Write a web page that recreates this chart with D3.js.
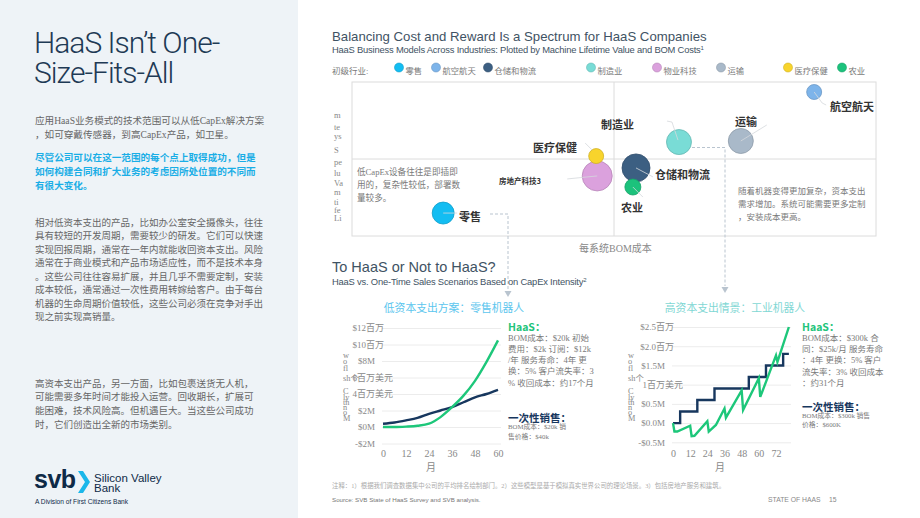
<!DOCTYPE html>
<html>
<head>
<meta charset="utf-8">
<script src="https://cdn.jsdelivr.net/npm/d3@7"></script>
<style>
  body { margin: 0; background: #fff; }
  svg { display: block; }
</style>
</head>
<body>
<svg id="page" width="920" height="518"></svg>
<script>
// ---- data: bubble chart (relative units 0..10 on both axes) ----
var industries    = ["零售", "航空航天", "仓储和物流", "制造业", "物业科技", "运输", "医疗保健", "农业"];
var bubbleLabels  = ["零售", "航空航天", "仓储和物流", "制造业", "房地产科技3", "运输", "医疗保健", "农业"];
var bomCost       = [1.74, 8.82, 5.42, 6.24, 4.68, 7.42, 4.66, 5.36];
var lifetimeValue = [1.49, 9.35, 4.42, 6.10, 3.90, 6.17, 5.19, 3.18];
var bubbleSize    = [121, 56, 196, 156, 225, 156, 56, 64];

// ---- data: low capex, retail robot ($M by month) ----
var retailMonths     = [0, 6, 12, 18, 24, 30, 36, 42, 48, 54, 60];
var retailHaas       = [0, 0, 0.05, 0.15, 0.4, 1.2, 2.4, 3.8, 5.6, 7.9, 10.5];
var retailOneTime    = [0.4, 0.55, 0.8, 1.1, 1.6, 2.0, 2.4, 3.0, 3.6, 4.0, 4.5];
var retailYTicks     = [-2, 0, 2, 4, 6, 8, 10, 12];
var retailYLabels    = ["-$2M", "$0M", "$2M", "4百万美元", "6百万美元", "$8M", "$10百万", "$12百万"];
var retailXTicks     = [0, 12, 24, 36, 48, 60];

// ---- data: high capex, industrial robot ($M by month) ----
var indHaasMonths    = [0, 1, 3, 12, 13, 15, 24, 25, 30, 36, 37, 48, 49, 60, 61, 72, 73, 81];
var indHaas          = [0, -0.22, -0.22, -0.07, -0.34, -0.33, 0.05, -0.22, -0.05, 0.38, 0.14, 0.85, 0.34, 1.17, 0.68, 1.76, 1.59, 2.5];
var indOneTimeMonths = [0, 5, 17, 29, 53, 65, 77, 81];
var indOneTime       = [0, 0.3, 0.6, 0.9, 1.2, 1.5, 1.8, 1.8];
var indYTicks        = [-0.5, 0, 0.5, 1, 1.5, 2, 2.5];
var indYLabels       = ["-$0.5M", "$0.0M", "$0.5M", "1百万美元", "$1.5M", "$2.0百万", "$2.5百万"];
var indXTicks        = [0, 12, 24, 36, 48, 60, 72];

// ---- styles ----
var SERIF = '"Liberation Serif", "Noto Sans CJK SC", serif';
var SANS = '"Liberation Sans", "Noto Sans CJK SC", sans-serif';
var CJK = '"Noto Sans CJK SC", sans-serif';
var NAVY = "#17375e", GREEN = "#1dc77a", GREY = "#7a7a7a";
var industryColor = d3.scaleOrdinal().domain(industries)
  .range(["#13bdf2", "#7db4ea", "#3c5f82", "#79dcd6", "#dba1dd", "#a9b9c9", "#f8d42c", "#1cc27c"]);

var svg = d3.select("#page");

// helper: several lines of text
function textLines(x, y, arr, lh, size, fill, family, weight) {
  var t = svg.append("text").attr("font-family", family).attr("font-size", size)
    .attr("fill", fill).attr("font-weight", weight || 400);
  arr.forEach(function (s, i) {
    t.append("tspan").attr("x", x).attr("y", y + i * lh).text(s);
  });
  return t;
}

// ---------------- left panel ----------------
svg.append("rect").attr("width", 298).attr("height", 518).attr("fill", "#eef3f7");

var title = svg.append("text").attr("font-family", 'Roboto, "Liberation Sans", sans-serif')
  .attr("font-weight", 300).attr("font-size", 30).attr("fill", "#1e3a55").attr("letter-spacing", -1);
title.append("tspan").attr("x", 34).attr("y", 53).text("HaaS Isn’t One-");
title.append("tspan").attr("x", 34).attr("y", 83).text("Size-Fits-All");

textLines(35, 123.5, ["应用HaaS业务模式的技术范围可以从低CapEx解决方案", "，如可穿戴传感器，到高CapEx产品，如卫星。"],
  14.5, 9.6, "#666", SERIF);
textLines(35, 160.5, ["尽管公司可以在这一范围的每个点上取得成功，但是", "如何构建合同和扩大业务的考虑因所处位置的不同而", "有很大变化。"],
  14, 9.6, "#1aaee6", CJK, 700);
textLines(35, 225.5, ["相对低资本支出的产品，比如办公室安全摄像头，往往", "具有较短的开发周期，需要较少的研发。它们可以快速",
  "实现回报周期，通常在一年内就能收回资本支出。风险", "通常在于商业模式和产品市场适应性，而不是技术本身",
  "。这些公司往往容易扩展，并且几乎不需要定制，安装", "成本较低，通常通过一次性费用转嫁给客户。由于每台",
  "机器的生命周期价值较低，这些公司必须在竞争对手出", "现之前实现高销量。"], 13.57, 9.5, "#666", SERIF);
textLines(35, 386.5, ["高资本支出产品，另一方面，比如包裹送货无人机，", "可能需要多年时间才能投入运营。回收期长，扩展可",
  "能困难，技术风险高。但机遇巨大。当这些公司成功", "时，它们创造出全新的市场类别。"], 13.67, 9.5, "#666", SERIF);

// logo
svg.append("text").attr("x", 34).attr("y", 488).attr("font-family", SANS).attr("font-weight", 700)
  .attr("font-size", 25).attr("letter-spacing", -0.5).attr("fill", "#0e2a47").text("svb");
svg.append("path").attr("d", "M78,471 L83,471 L90,482 L83,493 L78,493 L85,482 Z").attr("fill", "#1ab7ea");
textLines(94, 481.5, ["Silicon Valley", "Bank"], 10.5, 11.5, "#0e2a47", SANS);
svg.append("text").attr("x", 35).attr("y", 504).attr("font-family", SANS).attr("font-size", 6.6)
  .attr("fill", "#0e2a47").text("A Division of First Citizens Bank");

// ---------------- bubble chart ----------------
svg.append("text").attr("x", 332).attr("y", 41).attr("font-family", SANS).attr("font-size", 13.2)
  .attr("fill", "#3f5364").text("Balancing Cost and Reward Is a Spectrum for HaaS Companies");
var sub1 = svg.append("text").attr("x", 332).attr("y", 53).attr("font-family", SANS).attr("font-size", 9.4)
  .attr("fill", "#3f5364").attr("letter-spacing", -0.2)
  .text("HaaS Business Models Across Industries: Plotted by Machine Lifetime Value and BOM Costs");
sub1.append("tspan").attr("font-size", 6).attr("dy", -3).text("1");

// legend
var legendX = [399, 436, 488, 591, 657, 721, 788, 842];
svg.append("text").attr("x", 332).attr("y", 73.5).attr("font-family", SERIF).attr("font-size", 8.5)
  .attr("fill", GREY).text("初级行业:");
var legend = svg.append("g").selectAll("g").data(industries).join("g")
  .attr("transform", function (d, i) { return "translate(" + legendX[i] + ",0)"; });
legend.append("circle").attr("cy", 67.5).attr("r", 4.5).attr("fill", industryColor)
  .attr("stroke", function (d) { return d3.color(industryColor(d)).darker(0.5); }).attr("stroke-width", 0.6);
legend.append("text").attr("x", 6.5).attr("y", 73.5).attr("font-family", SERIF).attr("font-size", 8.3)
  .attr("fill", GREY).text(function (d) { return d; });

var bx = d3.scaleLinear().domain([0, 10]).range([352, 876]);
var by = d3.scaleLinear().domain([0, 10]).range([236, 82]);
var br = d3.scaleSqrt().domain([0, 225]).range([0, 15]);

var frame = svg.append("g").attr("stroke", "#dcdcdc").attr("stroke-width", 1);
frame.append("rect").attr("x", bx(0)).attr("y", by(10)).attr("width", bx(10) - bx(0))
  .attr("height", by(0) - by(10)).attr("fill", "none");
frame.append("line").attr("x1", bx(5)).attr("x2", bx(5)).attr("y1", by(10)).attr("y2", by(0));
frame.append("line").attr("x1", bx(0)).attr("x2", bx(10)).attr("y1", by(5)).attr("y2", by(5));

// stacked y-axis label
var yPieces = ["m", "te", "ys", "S", "pe", "lu", "Va", "m", "ti", "fe", "Li"];
var yPieceY = [118, 130, 139, 153, 165, 176, 186, 195, 205, 213, 221];
svg.append("g").selectAll("text").data(yPieces).join("text")
  .attr("x", 334).attr("y", function (d, i) { return yPieceY[i]; })
  .attr("font-family", SERIF).attr("font-size", 8.5).attr("fill", "#888").text(function (d) { return d; });

svg.append("text").attr("x", 579).attr("y", 252).attr("font-family", SERIF).attr("font-size", 10)
  .attr("fill", "#888").text("每系统BOM成本");

textLines(357, 174.5, ["低CapEx设备往往是即插即", "用的，复杂性较低，部署数", "量较多。"], 13, 8.6, GREY, SERIF);
textLines(738, 194, ["随着机器变得更加复杂，资本支出", "需求增加。系统可能需要更多定制", "，安装成本更高。"], 13, 8.5, GREY, SERIF);

// bubble labels and leader lines (layout only)
var labelPos = [[459, 221, 11], [830, 111, 11], [655, 179, 11], [601, 129, 11], [499, 184, 7.5], [735, 126, 11], [533, 152, 11], [621, 212, 11]];
var leaders = [
  [[0, 0], [14, 0]], [[0, 0], [8, 11], [12, 13]], [[0, 0], [17, 9]], [[-12, -21], [-7, -20], [-1, -2]],
  [[-30, 3], [0, 0]], [[0, 0], [26, -16]], [[-11, -13], [-4, -6]], [[0, 0], [10, 10]]
];

var bubbles = svg.append("g").selectAll("g").data(industries).join("g")
  .attr("transform", function (d, i) { return "translate(" + bx(bomCost[i]) + "," + by(lifetimeValue[i]) + ")"; });
bubbles.append("circle").attr("r", function (d, i) { return br(bubbleSize[i]); })
  .attr("fill", industryColor)
  .attr("stroke", function (d) { return d3.color(industryColor(d)).darker(0.5); }).attr("stroke-width", 0.8);
bubbles.append("path").attr("d", function (d, i) { return d3.line()(leaders[i]); })
  .attr("fill", "none").attr("stroke", "#d4d8dc").attr("stroke-width", 0.8);

svg.append("g").selectAll("text").data(bubbleLabels).join("text")
  .attr("x", function (d, i) { return labelPos[i][0]; }).attr("y", function (d, i) { return labelPos[i][1]; })
  .attr("font-size", function (d, i) { return labelPos[i][2]; })
  .attr("font-family", CJK).attr("font-weight", 700).attr("fill", "#333").text(function (d) { return d; });

// dashed connectors into the scenario charts
var dash = svg.append("g").attr("fill", "none").attr("stroke", "#b9c4cf").attr("stroke-width", 1)
  .attr("stroke-dasharray", "3,2");
dash.append("path").attr("d", "M490,214 H508 V290");
dash.append("path").attr("d", "M692,147.5 H725 V286");
svg.append("path").attr("d", "M504.5,291 L511.5,291 L508,297 Z").attr("fill", "#b9c4cf");
svg.append("path").attr("d", "M721.5,287 L728.5,287 L725,293 Z").attr("fill", "#b9c4cf");

// ---------------- scenario charts ----------------
svg.append("text").attr("x", 332).attr("y", 272).attr("font-family", SANS).attr("font-size", 14.5)
  .attr("fill", "#3f5364").text("To HaaS or Not to HaaS?");
var sub2 = svg.append("text").attr("x", 332).attr("y", 284.5).attr("font-family", SANS).attr("font-size", 9.4)
  .attr("fill", "#3f5364").attr("letter-spacing", -0.2)
  .text("HaaS vs. One-Time Sales Scenarios Based on CapEx Intensity");
sub2.append("tspan").attr("font-size", 6).attr("dy", -3).text("2");

var cashPieces = ["w", "o", "fl", "sh个", "C", "ly", "th", "n", "o", "M"];
var cashPieceY = [358, 364, 371, 380.5, 394, 399.5, 405, 410, 415, 421];

function cashChart(cfg) {
  var g = svg.append("g");
  var x = d3.scaleLinear().domain(cfg.xDomain).range(cfg.xRange);
  var y = d3.scaleLinear().domain(cfg.yDomain).range(cfg.yRange);

  g.append("text").attr("x", cfg.titleX).attr("y", 312).attr("text-anchor", "middle")
    .attr("font-family", CJK).attr("font-size", 10.8).attr("fill", cfg.titleColor).text(cfg.title);

  // gridlines
  g.append("g").attr("transform", "translate(" + cfg.gridX[0] + ",0)")
    .call(d3.axisRight(y).tickValues(cfg.yTicks).tickSize(cfg.gridX[1] - cfg.gridX[0]).tickFormat(""))
    .call(function (s) { s.select(".domain").remove(); })
    .selectAll("line").attr("stroke", "#ececec");

  // y tick labels
  g.append("g").attr("transform", "translate(" + cfg.yLabelRight + ",0)")
    .call(d3.axisLeft(y).tickValues(cfg.yTicks).tickSize(0).tickPadding(0)
      .tickFormat(function (d, i) { return cfg.yLabels[i]; }))
    .call(function (s) { s.select(".domain").remove(); })
    .selectAll("text").attr("font-family", SERIF).attr("font-size", 9).attr("fill", "#888")
    .attr("dx", function (d, i) { return ((cfg.yLabels[i].match(/[\u4e00-\u9fff]/g) || []).length * 4.5); });

  // x tick labels
  g.append("g").attr("transform", "translate(0," + 450 + ")")
    .call(d3.axisBottom(x).tickValues(cfg.xTicks).tickSize(0).tickPadding(0))
    .call(function (s) { s.select(".domain").remove(); })
    .selectAll("text").attr("font-family", SERIF).attr("font-size", 10).attr("fill", "#888");
  g.append("text").attr("x", cfg.monthX).attr("y", 471).attr("text-anchor", "middle")
    .attr("font-family", SERIF).attr("font-size", 10).attr("fill", "#888").text("月");

  g.append("g").selectAll("text").data(cashPieces).join("text")
    .attr("x", cfg.yTitleX).attr("y", function (d, i) { return cashPieceY[i]; })
    .attr("font-family", SERIF).attr("font-size", 8.3).attr("fill", "#888").text(function (d) { return d; });

  var line = d3.line().x(function (d) { return x(d[0]); }).y(function (d) { return y(d[1]); });
  g.append("path").datum(d3.zip(cfg.oneMonths, cfg.oneValues))
    .attr("d", line.curve(cfg.oneCurve)).attr("fill", "none").attr("stroke", NAVY).attr("stroke-width", 2.4);
  g.append("path").datum(d3.zip(cfg.haasMonths, cfg.haasValues))
    .attr("d", line.curve(cfg.haasCurve)).attr("fill", "none").attr("stroke", GREEN).attr("stroke-width", 2.4);

  // side notes
  g.append("text").attr("x", cfg.noteX).attr("y", 331).attr("font-family", CJK).attr("font-weight", 700)
    .attr("font-size", 10.5).attr("fill", "#22c47a").text("HaaS：");
  textLines(cfg.noteX, 340.5, cfg.haasNote, cfg.noteLh, 8.5, GREY, SERIF);
  g.append("text").attr("x", cfg.noteX).attr("y", cfg.oneY).attr("font-family", CJK).attr("font-weight", 700)
    .attr("font-size", 10.5).attr("fill", NAVY).text("一次性销售：");
  textLines(cfg.noteX, cfg.oneY + 7, cfg.oneNote, cfg.oneLh, 6.8, GREY, SERIF);
}

cashChart({
  title: "低资本支出方案：零售机器人", titleX: 454, titleColor: "#5cc6ee",
  xDomain: [0, 60], xRange: [383, 498], yDomain: [-2, 12], yRange: [443.5, 328],
  gridX: [382, 501], yLabelRight: 375, yTitleX: 343, monthX: 431,
  yTicks: retailYTicks, yLabels: retailYLabels, xTicks: retailXTicks,
  haasMonths: retailMonths, haasValues: retailHaas, haasCurve: d3.curveMonotoneX,
  oneMonths: retailMonths, oneValues: retailOneTime, oneCurve: d3.curveMonotoneX,
  noteX: 508, noteLh: 11.3, oneY: 422, oneLh: 9.5,
  haasNote: ["BOM成本：$20k 初始", "费用：$2k 订阅：$12k", "/年 服务寿命：4年 更", "换：5% 客户流失率：3", "% 收回成本：约17个月"],
  oneNote: ["BOM成本：$20k 销", "售价格：$40k"]
});

cashChart({
  title: "高资本支出情景：工业机器人", titleX: 735, titleColor: "#7fd7d4",
  xDomain: [0, 72], xRange: [673, 776], yDomain: [-0.5, 2.5], yRange: [442.3, 327],
  gridX: [672, 791], yLabelRight: 665, yTitleX: 628, monthX: 720,
  yTicks: indYTicks, yLabels: indYLabels, xTicks: indXTicks,
  haasMonths: indHaasMonths, haasValues: indHaas, haasCurve: d3.curveLinear,
  oneMonths: indOneTimeMonths, oneValues: indOneTime, oneCurve: d3.curveStepAfter,
  noteX: 802, noteLh: 11.4, oneY: 411, oneLh: 8.5,
  haasNote: ["BOM成本：$300k 合", "同：$25k/月 服务寿命", "：4年 更换：5% 客户", "流失率：3% 收回成本", "：约31个月"],
  oneNote: ["BOM成本：$300k 销售", "价格：$600K"]
});

// ---------------- footer ----------------
svg.append("text").attr("x", 332).attr("y", 487.5).attr("font-family", SERIF).attr("font-size", 6.4)
  .attr("fill", "#aaa").text("注释：1）根据我们调查数据集中公司的平均排名绘制部门。2）这些模型是基于模拟真实世界公司的理论场景。3）包括房地产服务和建筑。");
svg.append("text").attr("x", 332).attr("y", 501.5).attr("font-family", SANS).attr("font-size", 6.2)
  .attr("fill", "#777").text("Source: SVB State of HaaS Survey and SVB analysis.");
svg.append("text").attr("x", 768).attr("y", 501.5).attr("font-family", SANS).attr("font-size", 6.8)
  .attr("fill", "#888").text("STATE OF HAAS");
svg.append("text").attr("x", 829).attr("y", 501.5).attr("font-family", SANS).attr("font-size", 6.8)
  .attr("fill", "#888").text("15");
</script>
</body>
</html>
